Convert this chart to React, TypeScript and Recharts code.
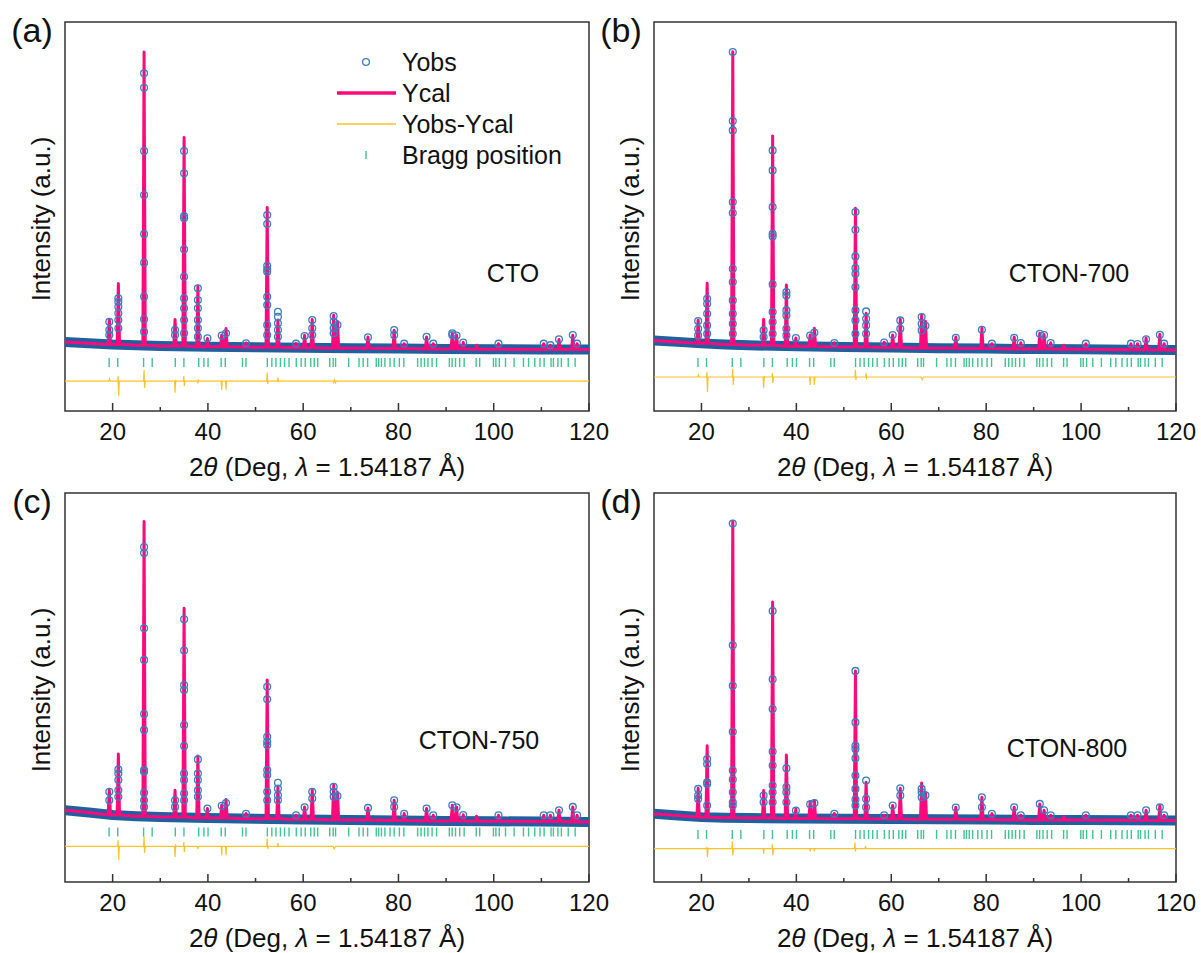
import React from "react";
import {
  ComposedChart,
  Line,
  Scatter,
  XAxis,
  YAxis,
  ReferenceArea,
} from "recharts";

const FONT = "'Liberation Sans', Arial, Helvetica, sans-serif";

// 2theta of the main reflections (deg), shared by the four samples
const peakPos = [
  19.3, 21.2, 26.6, 33.1, 35.0, 37.9, 39.9, 42.9, 43.8, 48.0, 52.45, 54.7,
  58.5, 60.3, 61.9, 66.4, 67.2, 73.6, 79.1, 81.2, 85.9, 87.3, 91.3, 92.2,
  93.6, 96.4, 101.0, 110.5, 111.9, 113.7, 116.6, 117.5,
];

// Ycal peak tops, one per reflection
const calcA = [1055, 2258, 9998, 1055, 7137, 2167, 420, 540, 754, 273, 4798, 1040, 260, 530, 1055, 1198, 1000, 473, 697, 250, 473, 250, 587, 540, 300, 200, 250, 250, 200, 386, 530, 250];
const calcB = [1041, 2268, 10008, 1065, 7190, 2211, 440, 540, 764, 283, 4774, 1265, 300, 540, 1065, 1208, 1000, 470, 764, 250, 470, 280, 597, 560, 280, 200, 250, 250, 250, 440, 563, 250];
const calcC = [1068, 2274, 10051, 1068, 7150, 2208, 456, 570, 757, 290, 4754, 1175, 232, 510, 1081, 1235, 1000, 476, 734, 290, 456, 232, 567, 510, 250, 200, 232, 232, 232, 400, 510, 232];
const calcD = [1135, 2555, 10055, 1058, 7357, 2241, 446, 690, 727, 290, 5055, 1335, 232, 557, 1135, 1312, 1000, 500, 834, 290, 500, 232, 607, 400, 232, 180, 232, 232, 232, 400, 557, 232];

// background level
const bgX = [10, 15, 20, 25, 30, 40, 50, 60, 70, 80, 90, 100, 110, 120];
const bgA = [306, 266, 222, 196, 172, 146, 129, 112, 99, 86, 72, 66, 59, 52];
const bgB = [360, 310, 260, 225, 195, 160, 140, 120, 100, 85, 70, 60, 50, 40];
const bgC = [400, 320, 240, 200, 172, 140, 110, 90, 75, 55, 40, 30, 18, 8];
const bgD = [280, 220, 168, 150, 135, 120, 112, 105, 95, 85, 75, 68, 60, 55];

// Yobs points on the peaks [2theta, counts]
const obsA = [
  [19.3, 984], [19.3, 707], [19.3, 540],
  [21.2, 1766], [21.2, 1653], [21.2, 1486], [21.2, 1265], [21.2, 1041], [21.2, 764],
  [26.6, 9286], [26.6, 8805], [26.6, 6689], [26.6, 5219], [26.6, 3915], [26.6, 2956], [26.6, 1820], [26.6, 1065], [26.6, 650],
  [33.1, 707], [33.1, 540],
  [35.0, 6689], [35.0, 5944], [35.0, 4517], [35.0, 4440], [35.0, 3404], [35.0, 2488], [35.0, 1766], [35.0, 1432], [35.0, 1041], [35.0, 597],
  [37.9, 2101], [37.9, 1710], [37.9, 1432], [37.9, 1041], [37.9, 764], [37.9, 483],
  [39.9, 430], [42.9, 520], [43.8, 600], [48.0, 260],
  [52.45, 4550], [52.45, 4250], [52.45, 2856], [52.45, 2736], [52.45, 2655], [52.45, 1820], [52.45, 1543], [52.45, 874], [52.45, 540],
  [54.7, 1319], [54.7, 1152], [54.7, 931], [54.7, 707], [54.7, 483],
  [58.5, 250], [60.3, 506],
  [61.9, 1041], [61.9, 764], [61.9, 540],
  [66.4, 1175], [66.4, 984], [66.4, 764], [66.4, 597], [67.2, 874],
  [73.6, 463], [79.1, 707], [79.1, 540], [81.2, 250], [85.9, 480], [87.3, 250], [91.3, 597], [91.3, 540], [92.2, 520],
  [93.6, 290], [101.0, 250], [110.5, 250], [111.9, 200], [113.7, 395], [116.6, 540], [117.5, 250],
];
const obsB = [
  [19.3, 1008], [19.3, 750], [19.3, 527],
  [21.2, 1753], [21.2, 1586], [21.2, 1252], [21.2, 861], [21.2, 583],
  [26.6, 9998], [26.6, 7692], [26.6, 7378], [26.6, 4985], [26.6, 4617], [26.6, 2756], [26.6, 2311], [26.6, 1696], [26.6, 1252], [26.6, 918], [26.6, 583],
  [33.1, 694], [33.1, 473],
  [35.0, 6709], [35.0, 6041], [35.0, 4818], [35.0, 3925], [35.0, 3835], [35.0, 2231], [35.0, 1309], [35.0, 974], [35.0, 583],
  [37.9, 1977], [37.9, 1863], [37.9, 1362], [37.9, 1195], [37.9, 750], [37.9, 527],
  [39.9, 440], [42.9, 520], [43.8, 620], [48.0, 270],
  [52.45, 4651], [52.45, 4059], [52.45, 3167], [52.45, 2779], [52.45, 2589], [52.45, 2144], [52.45, 1362], [52.45, 1028], [52.45, 583],
  [54.7, 1329], [54.7, 1085], [54.7, 861], [54.7, 583],
  [58.5, 290], [60.3, 540], [61.9, 1028], [61.9, 750],
  [66.4, 1141], [66.4, 918], [66.4, 694], [67.2, 850],
  [73.6, 450], [79.1, 717], [81.2, 250], [85.9, 450], [87.3, 270], [91.3, 583], [92.2, 540],
  [93.6, 270], [101.0, 250], [110.5, 250], [111.9, 240], [113.7, 400], [116.6, 550], [117.5, 250],
];
const obsC = [
  [19.3, 1014], [19.3, 734],
  [21.2, 1760], [21.2, 1626], [21.2, 1406], [21.2, 1068], [21.2, 847],
  [26.6, 9192], [26.6, 8992], [26.6, 6482], [26.6, 5423], [26.6, 3615], [26.6, 3080], [26.6, 1740], [26.6, 1683], [26.6, 981], [26.6, 734], [26.6, 510],
  [33.1, 734], [33.1, 510],
  [35.0, 6783], [35.0, 5733], [35.0, 4584], [35.0, 4417], [35.0, 3247], [35.0, 2542], [35.0, 1626], [35.0, 1406], [35.0, 958], [35.0, 734],
  [37.9, 2097], [37.9, 1626], [37.9, 1406], [37.9, 1068], [37.9, 847],
  [39.9, 456], [42.9, 550], [43.8, 640], [48.0, 280],
  [52.45, 4527], [52.45, 4106], [52.45, 2856], [52.45, 2685], [52.45, 2575], [52.45, 1740], [52.45, 1573], [52.45, 1014], [52.45, 734],
  [54.7, 1315], [54.7, 1125], [54.7, 901], [54.7, 734],
  [58.5, 230], [60.3, 500], [61.9, 1014], [61.9, 791],
  [66.4, 1181], [66.4, 1014], [66.4, 847], [67.2, 870],
  [73.6, 476], [79.1, 734], [79.1, 510], [81.2, 280], [85.9, 456], [87.3, 230], [91.3, 567], [92.2, 500],
  [93.6, 240], [101.0, 230], [110.5, 230], [111.9, 230], [113.7, 400], [116.6, 510], [117.5, 230],
];
const obsD = [
  [19.3, 1111], [19.3, 891], [19.3, 777],
  [21.2, 2111], [21.2, 1944], [21.2, 1335], [21.2, 1278], [21.2, 556],
  [26.6, 9978], [26.6, 5911], [26.6, 4557], [26.6, 3023], [26.6, 1723], [26.6, 1422], [26.6, 1001], [26.6, 667], [26.6, 556],
  [33.1, 891], [33.1, 667],
  [35.0, 7057], [35.0, 4778], [35.0, 3778], [35.0, 2358], [35.0, 1890], [35.0, 1222], [35.0, 1001], [35.0, 667],
  [37.9, 1800], [37.9, 1168], [37.9, 1001], [37.9, 667],
  [39.9, 390], [42.9, 600], [43.8, 640], [48.0, 280],
  [52.45, 5055], [52.45, 3334], [52.45, 2555], [52.45, 2445], [52.45, 2134], [52.45, 1556], [52.45, 1111], [52.45, 757], [52.45, 556],
  [54.7, 1389], [54.7, 777], [54.7, 500],
  [58.5, 230], [60.3, 557], [61.9, 1135], [61.9, 891],
  [66.4, 1111], [66.4, 1001], [66.4, 834], [67.2, 900],
  [73.6, 490], [79.1, 834], [79.1, 500], [81.2, 280], [85.9, 500], [87.3, 230], [91.3, 610], [92.2, 400],
  [93.6, 230], [101.0, 230], [110.5, 230], [111.9, 230], [113.7, 400], [116.6, 500], [117.5, 230],
];

// Yobs-Ycal, offset below the pattern
const diffA = [
  [10, -1000], [19.2, -1000], [19.35, -930], [19.5, -1000],
  [21.05, -1000], [21.15, -830], [21.25, -1500], [21.4, -1000],
  [26.5, -1000], [26.6, -630], [26.7, -1230], [26.85, -1000],
  [33.0, -1000], [33.1, -1390], [33.25, -960], [33.35, -1000],
  [34.85, -1000], [34.95, -830], [35.05, -1165], [35.2, -1000],
  [37.8, -1000], [37.9, -1080], [38.0, -940], [38.1, -1000],
  [42.8, -1000], [42.9, -1300], [43.0, -1000], [43.7, -1000], [43.8, -1300], [43.9, -1000],
  [52.35, -1000], [52.45, -720], [52.55, -1100], [52.65, -1000],
  [54.6, -1000], [54.7, -880], [54.8, -1040], [54.9, -1000],
  [66.3, -1000], [66.4, -1080], [66.6, -960], [66.8, -1060], [67.0, -1000],
  [120, -1000],
];
const diffB = [
  [10, -864], [19.2, -864], [19.35, -800], [19.5, -864],
  [21.05, -864], [21.15, -700], [21.25, -1365], [21.4, -864],
  [26.5, -864], [26.6, -590], [26.7, -1130], [26.85, -864],
  [33.0, -864], [33.1, -1220], [33.25, -830], [33.35, -864],
  [34.85, -864], [34.95, -740], [35.05, -1060], [35.2, -864],
  [42.8, -864], [42.9, -1130], [43.0, -864], [43.7, -864], [43.8, -1130], [43.9, -864],
  [52.35, -864], [52.45, -620], [52.55, -960], [52.65, -864],
  [54.6, -864], [54.7, -740], [54.8, -900], [54.9, -864],
  [66.3, -864], [66.5, -950], [66.8, -864],
  [120, -864],
];
const diffC = [
  [10, -807], [21.05, -807], [21.15, -606], [21.25, -1275], [21.4, -807],
  [26.5, -807], [26.6, -469], [26.7, -1027], [26.85, -807],
  [33.0, -807], [33.1, -1161], [33.25, -780], [33.35, -807],
  [34.85, -807], [34.95, -673], [35.05, -994], [35.2, -807],
  [37.8, -807], [37.9, -900], [38.0, -807],
  [42.8, -807], [42.9, -1108], [43.0, -807], [43.7, -807], [43.8, -1108], [43.9, -807],
  [52.35, -807], [52.45, -550], [52.55, -900], [52.65, -807],
  [54.6, -807], [54.7, -700], [54.8, -807],
  [66.3, -807], [66.5, -900], [66.8, -807],
  [120, -807],
];
const diffD = [
  [10, -887], [21.05, -887], [21.15, -830], [21.25, -1164], [21.4, -887],
  [26.4, -887], [26.5, -643], [26.6, -1111], [26.75, -887],
  [33.0, -887], [33.1, -1055], [33.2, -887],
  [34.85, -887], [34.95, -743], [35.05, -1111], [35.2, -887],
  [42.8, -887], [42.9, -980], [43.0, -887], [43.7, -887], [43.8, -980], [43.9, -887],
  [52.25, -887], [52.35, -677], [52.45, -980], [52.55, -887],
  [54.5, -887], [54.6, -800], [54.7, -887],
  [120, -887],
];

// Bragg positions (deg)
const braggPos = [
  19.26, 21.07, 26.5, 28.3, 33.15, 34.96, 38.07, 39.16, 40.03, 42.78, 43.65,
  47.26, 47.99, 52.47, 53.42, 54.28, 55.22, 56.09, 57.03, 58.55, 59.57, 60.43,
  61.59, 62.32, 63.04, 65.57, 66.3, 66.8, 69.55, 71.72, 72.59, 73.53, 75.34,
  75.85, 76.43, 77.15, 78.23, 79.1, 80.19, 81.13, 84.02, 84.75, 85.47, 86.19,
  87.06, 88.0, 90.68, 91.26, 91.98, 92.85, 93.79, 96.32, 97.05, 99.94, 100.45,
  101.17, 102.47, 104.28, 106.24, 107.32, 108.62, 109.71, 110.58, 112.03,
  112.53, 113.47, 114.2, 115.64, 117.09,
];

const xTicks = [20, 30, 40, 50, 60, 70, 80, 90, 100, 110, 120];

const C = {
  cal: "#fe0a7d",
  band: "#20609e",
  obs: "#3a7ec0",
  diff: "#fbc230",
  bragg: "#3fc38f",
  axis: "#333",
};

const panels = [
  { label: "(a)", sample: "CTO", calc: calcA, bg: bgA, obs: obsA, diff: diffA, braggY: -380, px: 65, py: 22, pw: 524, sx: 513, sy: 273, legend: true },
  { label: "(b)", sample: "CTON-700", calc: calcB, bg: bgB, obs: obsB, diff: diffB, braggY: -380, px: 654, py: 22, pw: 522, sx: 1069, sy: 273 },
  { label: "(c)", sample: "CTON-750", calc: calcC, bg: bgC, obs: obsC, diff: diffC, braggY: -330, px: 65, py: 493, pw: 524, sx: 479, sy: 740 },
  { label: "(d)", sample: "CTON-800", calc: calcD, bg: bgD, obs: obsD, diff: diffD, braggY: -410, px: 654, py: 493, pw: 522, sx: 1067, sy: 748 },
];

const PH = 389;

function nearestBg(bg: number[], x: number) {
  let k = 0;
  bgX.forEach((bx, i) => {
    if (Math.abs(bx - x) < Math.abs(bgX[k] - x)) k = i;
  });
  return bg[k];
}

function calcProfile(bg: number[], calc: number[]) {
  const pts = bgX.map((x, i) => ({ x, y: bg[i] }));
  peakPos.forEach((p, i) => {
    const base = nearestBg(bg, p);
    pts.push({ x: p - 0.25, y: base }, { x: p, y: calc[i] }, { x: p + 0.25, y: base });
  });
  return pts.sort((a, b) => a.x - b.x);
}

const Ring = (p: any) => (
  <circle cx={p.cx} cy={p.cy} r={3.4} fill="none" stroke={C.obs} strokeWidth={1.3} />
);

const BraggMark = (p: any) => (
  <line x1={p.cx} x2={p.cx} y1={p.cy - 4.5} y2={p.cy + 4.5} stroke={C.bragg} strokeWidth={1.4} />
);

const XTick = (props: any) => {
  const { x, y, payload } = props;
  const v = payload.value;
  const major = v % 20 === 0;
  return (
    <g>
      <line x1={x} x2={x} y1={y} y2={y - (major ? 8 : 4)} stroke={C.axis} strokeWidth={1.5} />
      {major && (
        <text x={x} y={y + 20} textAnchor="middle" dominantBaseline="central" fontSize={24} fill="#111" fontFamily={FONT}>
          {v}
        </text>
      )}
    </g>
  );
};

function Legend() {
  const rows = [
    { name: "Yobs", kind: "ring" },
    { name: "Ycal", kind: "cal" },
    { name: "Yobs-Ycal", kind: "diff" },
    { name: "Bragg position", kind: "bragg" },
  ];
  return (
    <>
      {rows.map((r, i) => (
        <div
          key={r.name}
          style={{ position: "absolute", left: 337, top: 62 + 31 * i - 15, height: 30, display: "flex", alignItems: "center" }}
        >
          <svg width={59} height={30}>
            {r.kind === "ring" && <circle cx={29} cy={15} r={3.4} fill="none" stroke={C.obs} strokeWidth={1.3} />}
            {r.kind === "cal" && <line x1={0} x2={59} y1={15} y2={15} stroke={C.cal} strokeWidth={3.5} />}
            {r.kind === "diff" && <line x1={0} x2={59} y1={15} y2={15} stroke={C.diff} strokeWidth={1.3} />}
            {r.kind === "bragg" && <line x1={29} x2={29} y1={11} y2={19} stroke={C.bragg} strokeWidth={1.4} />}
          </svg>
          <span style={{ marginLeft: 6, fontSize: 25, color: "#111", whiteSpace: "nowrap" }}>{r.name}</span>
        </div>
      ))}
    </>
  );
}

function Panel({ cfg }: { cfg: any }) {
  const ycal = calcProfile(cfg.bg, cfg.calc);
  const band = bgX.map((x, i) => ({ x, y: cfg.bg[i] }));
  const obs = cfg.obs.map(([x, y]: number[]) => ({ x, y }));
  const diff = cfg.diff.map(([x, y]: number[]) => ({ x, y }));
  const bragg = braggPos.map((x) => ({ x, y: cfg.braggY }));

  return (
    <>
      <div style={{ position: "absolute", left: cfg.px - 40, top: cfg.py - 10 }}>
        <ComposedChart
          width={cfg.pw + 80}
          height={PH + 55}
          margin={{ top: 10, right: 40, bottom: 15, left: 40 }}
        >
          <XAxis
            dataKey="x"
            type="number"
            domain={[10, 120]}
            ticks={xTicks}
            interval={0}
            allowDataOverflow
            axisLine={false}
            tickLine={false}
            tickSize={0}
            tickMargin={0}
            height={30}
            tick={(p: any) => <XTick {...p} />}
          />
          <YAxis dataKey="y" type="number" domain={[-2000, 11000]} hide allowDataOverflow />
          <Line data={band} dataKey="y" stroke={C.band} strokeWidth={10} dot={false} activeDot={false} isAnimationActive={false} />
          <Scatter data={obs} dataKey="y" shape={Ring} isAnimationActive={false} />
          <Line data={ycal} dataKey="y" stroke={C.cal} strokeWidth={3} strokeLinejoin="round" dot={false} activeDot={false} isAnimationActive={false} />
          <Line data={diff} dataKey="y" stroke={C.diff} strokeWidth={1.2} dot={false} activeDot={false} isAnimationActive={false} />
          <Scatter data={bragg} dataKey="y" shape={BraggMark} isAnimationActive={false} />
          <ReferenceArea x1={10} x2={120} y1={-2000} y2={11000} fill="none" stroke={C.axis} strokeWidth={1.5} ifOverflow="visible" />
        </ComposedChart>
      </div>

      <div style={{ position: "absolute", left: cfg.px - 33, top: cfg.py + 8, transform: "translate(-50%, -50%)", fontSize: 34, color: "#111" }}>
        {cfg.label}
      </div>
      <div
        style={{
          position: "absolute",
          left: cfg.px - 24,
          top: cfg.py + 197,
          transform: "translate(-50%, -50%) rotate(-90deg)",
          fontSize: 26,
          color: "#111",
          whiteSpace: "nowrap",
        }}
      >
        Intensity (a.u.)
      </div>
      <div
        style={{
          position: "absolute",
          left: cfg.px + cfg.pw / 2,
          top: cfg.py + PH + 56,
          transform: "translate(-50%, -50%)",
          fontSize: 26,
          color: "#111",
          whiteSpace: "nowrap",
        }}
      >
        2<i>θ</i> (Deg, <i>λ</i> = 1.54187 Å)
      </div>
      <div style={{ position: "absolute", left: cfg.sx, top: cfg.sy, transform: "translate(-50%, -50%)", fontSize: 25, color: "#111", whiteSpace: "nowrap" }}>
        {cfg.sample}
      </div>
      {cfg.legend && <Legend />}
    </>
  );
}

export default function App() {
  return (
    <div
      style={{
        position: "absolute",
        left: 0,
        top: 0,
        width: 1201,
        height: 953,
        background: "#fff",
        fontFamily: FONT,
        overflow: "hidden",
      }}
    >
      {panels.map((p) => (
        <Panel key={p.label} cfg={p} />
      ))}
    </div>
  );
}
